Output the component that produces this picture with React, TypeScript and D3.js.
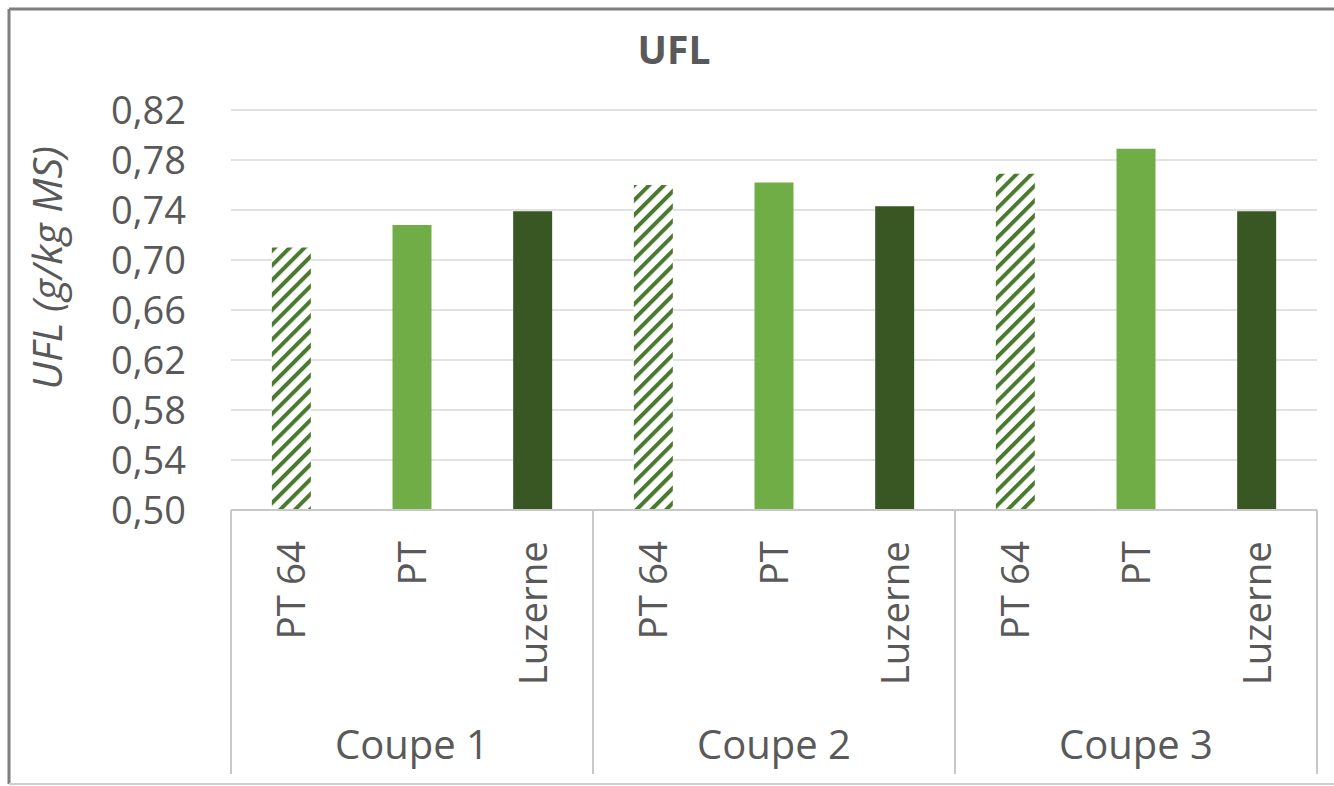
import React, { useEffect, useRef } from 'react';
import * as d3 from 'd3';

// chart data
const coupes = ['Coupe 1', 'Coupe 2', 'Coupe 3'];
const varietes = ['PT 64', 'PT', 'Luzerne'];
const coupe1 = [0.71, 0.728, 0.739];
const coupe2 = [0.76, 0.762, 0.743];
const coupe3 = [0.769, 0.789, 0.739];
const yTicks = [0.5, 0.54, 0.58, 0.62, 0.66, 0.7, 0.74, 0.78, 0.82];

const colors: Record<string, string> = {
  'PT 64': 'url(#hatch)',
  PT: '#70ad47',
  Luzerne: '#385723',
};

function App() {
  const ref = useRef<SVGSVGElement>(null);

  useEffect(() => {
    const svg = d3.select(ref.current);
    svg.selectAll('*').remove();

    const W = 1334;
    const H = 786;
    const left = 231, right = 1317, top = 110, bottom = 510;
    const font = "'Open Sans', sans-serif";
    const textColor = '#595959';

    svg.attr('width', W).attr('height', H).style('background', 'white');

    // hatch pattern for PT 64
    const pat = svg.append('defs').append('pattern')
      .attr('id', 'hatch')
      .attr('patternUnits', 'userSpaceOnUse')
      .attr('width', 10.5)
      .attr('height', 10.5)
      .attr('patternTransform', 'rotate(45)');
    pat.append('rect').attr('width', 10.5).attr('height', 10.5).attr('fill', 'white');
    pat.append('rect').attr('x', 0).attr('width', 4).attr('height', 10.5).attr('fill', '#4a7a30');

    // frame
    svg.append('line').attr('x1', 9).attr('x2', W).attr('y1', 9).attr('y2', 9)
      .attr('stroke', '#7f7f7f').attr('stroke-width', 3);
    svg.append('line').attr('x1', 9).attr('x2', 9).attr('y1', 9).attr('y2', 784)
      .attr('stroke', '#7f7f7f').attr('stroke-width', 3);
    svg.append('line').attr('x1', 9).attr('x2', W).attr('y1', 784).attr('y2', 784)
      .attr('stroke', '#cfcfcf').attr('stroke-width', 2);

    const rows = [coupe1, coupe2, coupe3];
    const data = coupes.flatMap((c, gi) =>
      varietes.map((v, vi) => ({ key: c + '|' + v, coupe: c, variete: v, value: rows[gi][vi] }))
    );

    const x = d3.scaleBand<string>()
      .domain(data.map((d) => d.key))
      .range([left, right])
      .paddingInner(0.677)
      .paddingOuter(0.3385);

    const y = d3.scaleLinear()
      .domain([0.5, 0.82])
      .range([bottom, top]);

    // gridlines
    svg.append('g')
      .selectAll('line')
      .data(yTicks.slice(1))
      .join('line')
      .attr('x1', left)
      .attr('x2', right)
      .attr('y1', (d) => y(d))
      .attr('y2', (d) => y(d))
      .attr('stroke', '#d9d9d9')
      .attr('stroke-width', 1.5);

    // y tick labels
    const fmt = (d: number) => d3.format('.2f')(d).replace('.', ',');
    svg.append('g')
      .selectAll('text')
      .data(yTicks)
      .join('text')
      .attr('x', 186)
      .attr('y', (d) => y(d))
      .attr('dy', '0.36em')
      .attr('text-anchor', 'end')
      .attr('font-family', font)
      .attr('font-size', 38)
      .attr('fill', textColor)
      .text(fmt);

    // bars
    svg.append('g')
      .selectAll('rect')
      .data(data)
      .join('rect')
      .attr('x', (d) => x(d.key)!)
      .attr('width', x.bandwidth())
      .attr('y', (d) => y(d.value))
      .attr('height', (d) => y(0.5) - y(d.value))
      .attr('fill', (d) => colors[d.variete]);

    // x axis line + group separators
    svg.append('line').attr('x1', left).attr('x2', right).attr('y1', bottom).attr('y2', bottom)
      .attr('stroke', '#c8c8c8').attr('stroke-width', 2);

    const step = x.step();
    const groupEdges = d3.range(coupes.length + 1).map((i) => left + i * step * varietes.length);
    svg.append('g')
      .selectAll('line')
      .data(groupEdges)
      .join('line')
      .attr('x1', (d) => d)
      .attr('x2', (d) => d)
      .attr('y1', bottom)
      .attr('y2', 774)
      .attr('stroke', '#c8c8c8')
      .attr('stroke-width', 2);

    // rotated category labels
    svg.append('g')
      .selectAll('text')
      .data(data)
      .join('text')
      .attr('transform', (d) => `translate(${x(d.key)! + x.bandwidth() / 2},541) rotate(-90)`)
      .attr('dy', '0.36em')
      .attr('text-anchor', 'end')
      .attr('font-family', font)
      .attr('font-size', 38.5)
      .attr('fill', textColor)
      .text((d) => d.variete);

    // group labels
    svg.append('g')
      .selectAll('text')
      .data(coupes)
      .join('text')
      .attr('x', (d, i) => (groupEdges[i] + groupEdges[i + 1]) / 2)
      .attr('y', 759)
      .attr('text-anchor', 'middle')
      .attr('font-family', font)
      .attr('font-size', 40)
      .attr('fill', textColor)
      .text((d) => d);

    // title
    svg.append('text')
      .attr('x', 674)
      .attr('y', 64)
      .attr('text-anchor', 'middle')
      .attr('font-family', font)
      .attr('font-size', 39)
      .attr('font-weight', 'bold')
      .attr('fill', textColor)
      .text('UFL');

    // y axis title
    svg.append('text')
      .attr('transform', 'translate(47,268) rotate(-90)')
      .attr('dy', '0.36em')
      .attr('text-anchor', 'middle')
      .attr('font-family', font)
      .attr('font-size', 41)
      .attr('font-style', 'italic')
      .attr('fill', textColor)
      .text('UFL (g/kg MS)');
  }, []);

  return (
    <div style={{ position: 'absolute', left: 0, top: 0 }}>
      <svg ref={ref}></svg>
    </div>
  );
}

export default App;
